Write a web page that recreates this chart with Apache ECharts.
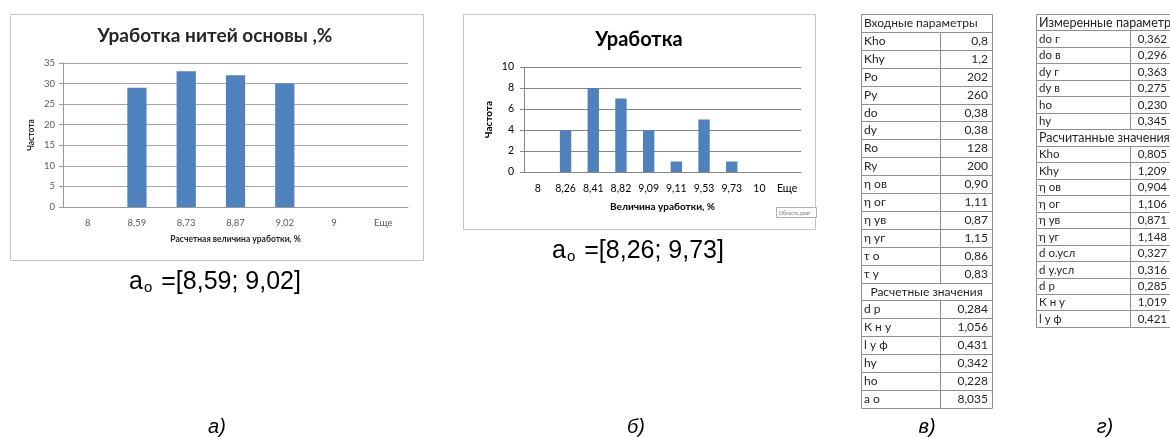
<!DOCTYPE html>
<html>
<head>
<meta charset="utf-8">
<script src="https://cdn.jsdelivr.net/npm/echarts@6/dist/echarts.min.js"></script>
<style>
  html, body { margin: 0; padding: 0; background: #fff; }
  #c { width: 1170px; height: 437px; }
</style>
</head>
<body>
<div id="c"></div>
<script>
// Histogram (а): calculated warp crimp
const catsA = ['8', '8,59', '8,73', '8,87', '9,02', '9', 'Еще'];
const freqA = [0, 29, 33, 32, 30, 0, 0];

// Histogram (б): measured crimp
const catsB = ['8', '8,26', '8,41', '8,82', '9,09', '9,11', '9,53', '9,73', '10', 'Еще'];
const freqB = [0, 4, 8, 7, 4, 1, 5, 1, 0, 0];

// Table (в)
const inputNames = ['Kho', 'Khy', 'Po', 'Py', 'do', 'dy', 'Ro', 'Ry', 'η ов', 'η ог', 'η ув', 'η уг', 'τ о', 'τ у'];
const inputValues = ['0,8', '1,2', '202', '260', '0,38', '0,38', '128', '200', '0,90', '1,11', '0,87', '1,15', '0,86', '0,83'];
const calcNamesV = ['d р', 'К н у', 'l у ф', 'hy', 'ho', 'a o'];
const calcValuesV = ['0,284', '1,056', '0,431', '0,342', '0,228', '8,035'];

// Table (г)
const measNames = ['do г', 'do в', 'dy г', 'dy в', 'ho', 'hy'];
const measValues = ['0,362', '0,296', '0,363', '0,275', '0,230', '0,345'];
const calcNamesG = ['Kho', 'Khy', 'η ов', 'η ог', 'η ув', 'η уг', 'd о.усл', 'd у.усл', 'd р', 'К н у', 'l у ф'];
const calcValuesG = ['0,805', '1,209', '0,904', '1,106', '0,871', '1,148', '0,327', '0,316', '0,285', '1,019', '0,421'];

const BAR = '#4F81BD';
const TABLE_FONT = 'Lato, "Open Sans", sans-serif';
const CAP_FONT = '"Liberation Sans", Arial, sans-serif';

// interval of non-empty bins, used in the captions
function span(cats, freq) {
  const idx = freq.map((v, i) => v > 0 ? i : -1).filter(i => i >= 0);
  return '[' + cats[idx[0]] + '; ' + cats[idx[idx.length - 1]] + ']';
}

function rowsOf(names, values) {
  return names.map((n, i) => ({ name: n, value: values[i] }));
}

function makeTable(x0, x1, split, y0, rowH, rows, fontSize, headSize) {
  const els = [];
  const line = '#8f8f8f';
  rows.forEach((r, i) => {
    const y = Math.round(y0 + i * rowH) + 0.5;
    const h = Math.round(y0 + (i + 1) * rowH) - Math.round(y0 + i * rowH);
    if (r.head) {
      els.push({ type: 'rect', shape: { x: x0 + 0.5, y: y, width: x1 - x0, height: h },
        style: { fill: '#fff', stroke: line, lineWidth: 1 } });
      els.push({ type: 'text', x: r.align === 'center' ? (x0 + x1) / 2 : x0 + 3, y: y + h / 2,
        style: { text: r.head, fill: '#262626', font: headSize + 'px ' + TABLE_FONT,
          align: r.align || 'left', verticalAlign: 'middle' } });
    } else {
      els.push({ type: 'rect', shape: { x: x0 + 0.5, y: y, width: split - x0, height: h },
        style: { fill: '#fff', stroke: line, lineWidth: 1 } });
      els.push({ type: 'rect', shape: { x: split + 0.5, y: y, width: x1 - split, height: h },
        style: { fill: '#fff', stroke: line, lineWidth: 1 } });
      els.push({ type: 'text', x: x0 + 3, y: y + h / 2,
        style: { text: r.name, fill: '#262626', font: fontSize + 'px ' + TABLE_FONT,
          align: 'left', verticalAlign: 'middle' } });
      els.push({ type: 'text', x: x1 - 4, y: y + h / 2,
        style: { text: r.value, fill: '#262626', font: fontSize + 'px ' + TABLE_FONT,
          align: 'right', verticalAlign: 'middle' } });
    }
  });
  return els;
}

const tableV = [{ head: 'Входные параметры' }]
  .concat(rowsOf(inputNames, inputValues))
  .concat([{ head: 'Расчетные значения', align: 'center' }])
  .concat(rowsOf(calcNamesV, calcValuesV));

const tableG = [{ head: 'Измеренные параметры' }]
  .concat(rowsOf(measNames, measValues))
  .concat([{ head: 'Расчитанные значения' }])
  .concat(rowsOf(calcNamesG, calcValuesG));

function caption(x, y, text) {
  return {
    type: 'text', x: x, y: y,
    style: {
      text: '{a|a}{s|o}{t| =' + text + '}',
      align: 'center', verticalAlign: 'middle',
      fill: '#000',
      rich: {
        a: { fontSize: 25, fontFamily: CAP_FONT, fill: '#000', lineHeight: 28, verticalAlign: 'bottom' },
        s: { fontSize: 15, fontFamily: CAP_FONT, fill: '#000', lineHeight: 14, verticalAlign: 'bottom', padding: [0, 2, 0, 1] },
        t: { fontSize: 25, fontFamily: CAP_FONT, fill: '#000', lineHeight: 28, verticalAlign: 'bottom' }
      }
    }
  };
}

function panelLabel(x, text) {
  return { type: 'text', x: x, y: 427,
    style: { text: text, font: 'italic 20px ' + CAP_FONT, fill: '#000', align: 'center', verticalAlign: 'middle' } };
}

const graphics = [
  // chart frames
  { type: 'rect', z: -10, shape: { x: 10.5, y: 14.5, width: 413, height: 246 },
    style: { fill: '#fff', stroke: '#c4c4c4', lineWidth: 1 } },
  { type: 'rect', z: -10, shape: { x: 463.5, y: 14.5, width: 352, height: 215 },
    style: { fill: '#fff', stroke: '#c4c4c4', lineWidth: 1 } },
  // chart titles
  { type: 'text', x: 215, y: 36,
    style: { text: 'Уработка нитей основы ,%', font: 'bold 19px ' + TABLE_FONT, fill: '#262626',
      align: 'center', verticalAlign: 'middle' } },
  { type: 'text', x: 639, y: 40,
    style: { text: 'Уработка', font: 'bold 20px ' + TABLE_FONT, fill: '#000',
      align: 'center', verticalAlign: 'middle' } },
  // hover hint box in chart (б)
  { type: 'rect', shape: { x: 776.5, y: 207.5, width: 40, height: 10 },
    style: { fill: '#fff', stroke: '#b0b0b0', lineWidth: 1 } },
  { type: 'text', x: 779, y: 213,
    style: { text: 'Область диаг', font: '5px ' + TABLE_FONT, fill: '#777', align: 'left', verticalAlign: 'middle' } },
  caption(215, 281, span(catsA, freqA)),
  caption(638, 250, span(catsB, freqB)),
  panelLabel(217, 'а)'),
  panelLabel(636, 'б)'),
  panelLabel(927, 'в)'),
  panelLabel(1105, 'г)')
].concat(makeTable(861, 992, 940, 14, 17.9, tableV, 12, 12))
 .concat(makeTable(1036, 1171, 1130, 14, 16.47, tableG, 11.5, 12.5));

const chart = echarts.init(document.getElementById('c'), null, { renderer: 'canvas' });
chart.setOption({
  animation: false,
  backgroundColor: '#fff',
  grid: [
    { left: 63, top: 63, width: 345, height: 144 },
    { left: 524, top: 67, width: 277, height: 105 }
  ],
  xAxis: [
    {
      type: 'category', gridIndex: 0, data: catsA,
      name: 'Расчетная величина уработки, %', nameLocation: 'middle', nameGap: 28,
      nameTextStyle: { fontFamily: TABLE_FONT, fontWeight: 'bold', fontSize: 8.5, color: '#262626' },
      axisLine: { lineStyle: { color: '#9a9a9a' } },
      axisTick: { length: 4, lineStyle: { color: '#9a9a9a' } },
      axisLabel: { fontFamily: TABLE_FONT, fontSize: 9.5, color: '#595959', margin: 11 }
    },
    {
      type: 'category', gridIndex: 1, data: catsB,
      name: 'Величина уработки, %', nameLocation: 'middle', nameGap: 30,
      nameTextStyle: { fontFamily: TABLE_FONT, fontWeight: 'bold', fontSize: 10, color: '#000' },
      axisLine: { lineStyle: { color: '#868686' } },
      axisTick: { length: 4, lineStyle: { color: '#868686' } },
      axisLabel: { fontFamily: TABLE_FONT, fontSize: 10.5, color: '#000', margin: 11, interval: 0 }
    }
  ],
  yAxis: [
    {
      type: 'value', gridIndex: 0, min: 0, max: 35, interval: 5,
      name: 'Частота', nameLocation: 'middle', nameGap: 27,
      nameTextStyle: { fontFamily: TABLE_FONT, fontWeight: 'bold', fontSize: 8.5, color: '#262626' },
      axisLine: { show: true, lineStyle: { color: '#9a9a9a' } },
      axisTick: { show: true, length: 4, lineStyle: { color: '#9a9a9a' } },
      axisLabel: { fontFamily: TABLE_FONT, fontSize: 9.5, color: '#595959', margin: 8 },
      splitLine: { lineStyle: { color: '#a6a6a6' } }
    },
    {
      type: 'value', gridIndex: 1, min: 0, max: 10, interval: 2,
      name: 'Частота', nameLocation: 'middle', nameGap: 30,
      nameTextStyle: { fontFamily: TABLE_FONT, fontWeight: 'bold', fontSize: 10, color: '#000' },
      axisLine: { show: true, lineStyle: { color: '#868686' } },
      axisTick: { show: true, length: 4, lineStyle: { color: '#868686' } },
      axisLabel: { fontFamily: TABLE_FONT, fontSize: 10.5, color: '#000', margin: 10 },
      splitLine: { lineStyle: { color: '#868686' } }
    }
  ],
  series: [
    { type: 'bar', xAxisIndex: 0, yAxisIndex: 0, data: freqA, barWidth: '39%', itemStyle: { color: BAR } },
    { type: 'bar', xAxisIndex: 1, yAxisIndex: 1, data: freqB, barWidth: '41%', itemStyle: { color: BAR } }
  ],
  graphic: graphics
});
</script>
</body>
</html>
